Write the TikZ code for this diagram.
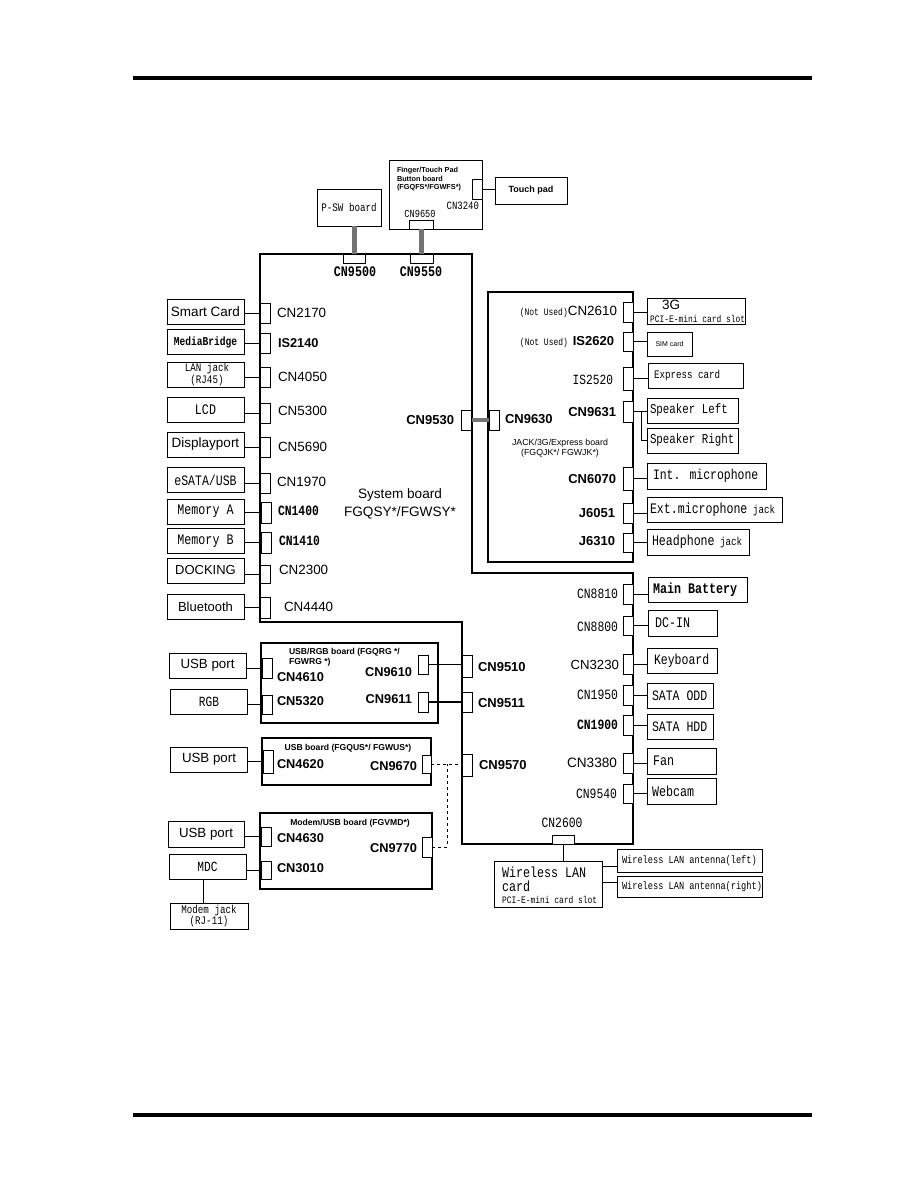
\documentclass[tikz,border=0pt]{standalone}
\usepackage{fontspec}
\setmainfont{Liberation Sans}
\newfontfamily\monof[FakeStretch=0.8]{Liberation Mono}
\newcommand\SaR[1]{\normalfont\fontsize{#1}{#1}\selectfont}
\newcommand\SaB[1]{\normalfont\bfseries\fontsize{#1}{#1}\selectfont}
\newcommand\MoR[1]{\monof\fontsize{#1}{#1}\selectfont}
\newcommand\MoB[1]{\monof\bfseries\fontsize{#1}{#1}\selectfont}
\begin{document}
\begin{tikzpicture}[x=1pt,y=-1pt,
  box/.style={draw, line width=0.9pt, inner sep=0pt, outer sep=0pt},
  lbox/.style={box, minimum width=77pt, minimum height=25pt},
  conn/.style={draw, line width=0.8pt, fill=white, inner sep=0pt, outer sep=0pt, minimum width=10pt},
  board/.style={draw, line width=1.1pt, inner sep=0pt, outer sep=0pt},
  tboard/.style={draw, line width=1.8pt, inner sep=0pt, outer sep=0pt},
  wire/.style={line width=0.9pt},
  cable/.style={line width=5pt, draw=black!55},
  dsh/.style={line width=0.9pt, dash pattern=on 3pt off 3pt},
  lbl/.style={inner sep=0pt, outer sep=0pt}]
\useasboundingbox (0,0) rectangle (918,1188);
% page rules
\fill (133,76) rectangle (812,80);
\fill (133,1113) rectangle (812,1117);

% ---------- top boards ----------
\node[box, minimum width=64pt, minimum height=37pt] (psw) at (349,207.5) {\MoR{11.5}P-SW board};
\node[box, minimum width=93pt, minimum height=69pt] (finger) at (435.5,194.5) {};
\node[lbl, anchor=north west, align=left, font=\fontsize{7.3}{8.6}\selectfont\bfseries] (fingert) at (397,167.5) {Finger/Touch Pad\\Button board\\(FGQFS*/FGWFS*)};
\node[conn, minimum width=24pt, minimum height=9pt] (c9650) at (421,224.5) {};
\node[conn, minimum height=20pt] (c3240) at (477,189) {};
\node[box, minimum width=72pt, minimum height=27pt] (tpad) at (531,190.5) {\SaB{9}Touch pad};
\draw[wire] (c3240.east) -- (c3240.east -| tpad.west);
\node[lbl, anchor=east] (l3240) at (479,206) {\MoR{11.2}CN3240};
\node[lbl] (l9650) at (420,213.5) {\MoR{10.8}CN9650};

% ---------- system board ----------
\draw[board] (260,254) -- (472,254) -- (472,573) -- (633,573) -- (633,844) -- (462,844) -- (462,622) -- (260,622) -- cycle;
\node[lbl] (sys1) at (400,495) {\SaR{13.6}System board};
\node[lbl] (sys2) at (400,513) {\SaR{13.6}FGQSY*/FGWSY*};

\node[conn, minimum width=22pt, minimum height=9pt] (c9500) at (354,258.5) {};
\node[conn, minimum width=23pt, minimum height=9pt] (c9550) at (421.5,258.5) {};
\draw[cable] (c9500.north |- psw.south) -- (c9500.north);
\draw[cable] (c9650.south) -- (c9650.south |- c9550.north);
\node[lbl] (l9500) at (355,272) {\MoB{14.6}CN9500};
\node[lbl] (l9550) at (421,272) {\MoB{14.6}CN9550};

% ---------- left column ----------
\node[lbox] (smart) at (205.5,312) {\SaR{13.5}Smart Card};
\node[conn, minimum height=20pt] (c2170) at (265,313) {};
\draw[wire] (c2170.west) -- (c2170.west -| smart.east);
\node[lbl, anchor=west] at (277,313) {\SaR{13.4}CN2170};

\node[lbox] (media) at (205.5,342) {\MoB{12}MediaBridge};
\node[conn, minimum height=20pt] (i2140) at (265,343) {};
\draw[wire] (i2140.west) -- (i2140.west -| media.east);
\node[lbl, anchor=west] at (278,343) {\SaB{12.8}IS2140};

\node[lbox] (lan) at (205.5,374.5) {};
\node[lbl, align=center, font=\monof\fontsize{11.5}{10}\selectfont] at (207,374.5) {LAN jack\\(RJ45)};
\node[conn, minimum height=20pt] (c4050) at (265,377) {};
\draw[wire] (c4050.west) -- (c4050.west -| lan.east);
\node[lbl, anchor=west] at (278,377) {\SaR{13.4}CN4050};

\node[lbox] (lcd) at (205.5,410) {\MoR{14.6}LCD};
\node[conn, minimum height=20pt] (c5300) at (265,413) {};
\draw[wire] (c5300.west) -- (c5300.west -| lcd.east);
\node[lbl, anchor=west] at (278,411) {\SaR{13.4}CN5300};

\node[lbox] (dport) at (205.5,444.5) {\SaR{13.5}Displayport};
\node[conn, minimum height=20pt] (c5690) at (265,447) {};
\draw[wire] (c5690.west) -- (c5690.west -| dport.east);
\node[lbl, anchor=west] at (278,447) {\SaR{13.4}CN5690};

\node[lbox] (esata) at (205.5,480) {\MoR{14.4}eSATA/USB};
\node[conn, minimum height=20pt] (c1970) at (265,483) {};
\draw[wire] (c1970.west) -- (c1970.west -| esata.east);
\node[lbl, anchor=west] at (277,482) {\SaR{13.4}CN1970};

\node[lbox] (mema) at (205.5,511.5) {\MoR{14.6}Memory A};
\node[conn, minimum height=21pt] (c1400) at (266,512.5) {};
\draw[wire] (c1400.west) -- (c1400.west -| mema.east);
\node[lbl, anchor=west] at (278,511) {\MoB{14.2}CN1400};

\node[lbox] (memb) at (205.5,541) {\MoR{14.6}Memory B};
\node[conn, minimum height=21pt] (c1410) at (266,542.5) {};
\draw[wire] (c1410.west) -- (c1410.west -| memb.east);
\node[lbl, anchor=west] at (279,541) {\MoB{14.2}CN1410};

\node[lbox] (dock) at (205.5,570.5) {\SaR{13}DOCKING};
\node[conn, minimum height=18pt] (c2300) at (265,574) {};
\draw[wire] (c2300.west) -- (c2300.west -| dock.east);
\node[lbl, anchor=west] at (279,570) {\SaR{13.4}CN2300};

\node[lbox] (bt) at (205.5,606.5) {\SaR{13}Bluetooth};
\node[conn, minimum height=21pt] (c4440) at (265,607.5) {};
\draw[wire] (c4440.west) -- (c4440.west -| bt.east);
\node[lbl, anchor=west] at (284,607) {\SaR{13.4}CN4440};

% ---------- JACK board ----------
\node[board, minimum width=145pt, minimum height=270pt] (jack) at (560.5,427) {};
\node[lbl, align=center, font=\fontsize{8.8}{10.5}\selectfont] at (560,448) {JACK/3G/Express board\\(FGQJK*/ FGWJK*)};
\node[conn, minimum height=20pt] (c9530) at (466.5,420) {};
\node[conn, minimum height=20pt] (c9630) at (494,420) {};
\draw[line width=4pt, draw=black!55] (c9530.east) -- (c9630.west);
\node[lbl, anchor=east] at (454,420) {\SaB{13}CN9530};
\node[lbl, anchor=west] at (505,419) {\SaB{13}CN9630};

\node[conn, minimum height=20pt] (c2610) at (628,312) {};
\node[box, minimum width=98pt, minimum height=26pt] (g3) at (696,311) {};
\node[lbl] at (671,305) {\SaR{13.5}3G};
\node[lbl, anchor=west] at (650,318.5) {\MoR{9.9}PCI-E-mini card slot};
\draw[wire] (c2610.east) -- (c2610.east -| g3.west);
\node[lbl, anchor=east] at (617,312) {{\MoR{10}(Not Used)}{\SaR{13.4}CN2610}};

\node[conn, minimum height=19pt] (i2620) at (628,341.5) {};
\node[box, minimum width=45pt, minimum height=24pt] (sim) at (669.5,344) {\SaR{7}SIM card};
\draw[wire] (i2620.east) -- (i2620.east -| sim.west);
\node[lbl, anchor=east] at (614,342) {{\MoR{10}(Not Used) }{\SaB{13}IS2620}};

\node[conn, minimum height=23pt] (i2520) at (628,378.5) {};
\node[box, minimum width=95pt, minimum height=25pt] (expr) at (695.5,375.5) {};
\node[lbl, anchor=west] at ([xshift=6pt]expr.west) {\MoR{11.5}Express card};
\draw[wire] (i2520.east) -- (i2520.east -| expr.west);
\node[lbl, anchor=east] at (613,380) {\MoR{14}IS2520};

\node[conn, minimum height=21pt] (c9631) at (628,411.5) {};
\node[box, minimum width=91pt, minimum height=25pt] (spkl) at (692.5,410.5) {};
\node[lbl, anchor=west] at ([xshift=3pt]spkl.west) {\MoR{13.5}Speaker Left};
\node[box, minimum width=91pt, minimum height=25pt] (spkr) at (692.5,440.5) {};
\node[lbl, anchor=west] at ([xshift=3pt]spkr.west) {\MoR{13.5}Speaker Right};
\draw[wire] (c9631.east) -- (c9631.east -| spkl.west);
\coordinate (sbr) at (641,411.5);
\draw[wire] (sbr) |- (spkr.west);
\node[lbl, anchor=east] at (616,412) {\SaB{13}CN9631};

\node[conn, minimum height=23pt] (c6070) at (628,478.5) {};
\node[box, minimum width=119pt, minimum height=26pt] (imic) at (706.5,476) {};
\node[lbl, anchor=west] at ([xshift=6pt]imic.west) {\MoR{14.3}Int. microphone};
\draw[wire] (c6070.east) -- (c6070.east -| imic.west);
\node[lbl, anchor=east] at (616,479) {\SaB{13}CN6070};

\node[conn, minimum height=20pt] (j6051) at (628,513) {};
\node[box, minimum width=135pt, minimum height=25pt] (emic) at (714.5,509.5) {};
\node[lbl, anchor=west] at ([xshift=3pt]emic.west) {{\MoR{14.5}Ext.microphone}{\MoR{11.5} jack}};
\draw[wire] (j6051.east) -- (j6051.east -| emic.west);
\node[lbl, anchor=east] at (615,513) {\SaB{13}J6051};

\node[conn, minimum height=19pt] (j6310) at (628,542.5) {};
\node[box, minimum width=102pt, minimum height=26pt] (hph) at (698,542) {};
\node[lbl, anchor=west] at ([xshift=5pt]hph.west) {{\MoR{14.5}Headphone}{\MoR{11.5} jack}};
\draw[wire] (j6310.east) -- (j6310.east -| hph.west);
\node[lbl, anchor=east] at (615,541) {\SaB{13}J6310};

% ---------- lower right ----------
\node[conn, minimum height=20pt] (c8810) at (628,594) {};
\node[box, minimum width=99pt, minimum height=25pt] (bat) at (697.5,589.5) {};
\node[lbl, anchor=west] at ([xshift=5pt]bat.west) {\MoB{14.6}Main Battery};
\draw[wire] (c8810.east) -- (c8810.east -| bat.west);
\node[lbl, anchor=east] at (618,594) {\MoR{14.2}CN8810};

\node[conn, minimum height=19pt] (c8800) at (628,625.5) {};
\node[box, minimum width=69pt, minimum height=26pt] (dcin) at (682.5,623) {};
\node[lbl, anchor=west] at ([xshift=7pt]dcin.west) {\MoR{14.6}DC-IN};
\draw[wire] (c8800.east) -- (c8800.east -| dcin.west);
\node[lbl, anchor=east] at (618,627) {\MoR{14.2}CN8800};

\node[conn, minimum height=20pt] (c3230) at (628,664) {};
\node[box, minimum width=70pt, minimum height=25pt] (kbd) at (682,660.5) {};
\node[lbl, anchor=west] at ([xshift=7pt]kbd.west) {\MoR{14.4}Keyboard};
\draw[wire] (c3230.east) -- (c3230.east -| kbd.west);
\node[lbl, anchor=east] at (619,665) {\SaR{13.2}CN3230};

\node[conn, minimum height=20pt] (c1950) at (628,695) {};
\node[box, minimum width=66pt, minimum height=25pt] (odd) at (680,695.5) {};
\node[lbl, anchor=west] at ([xshift=5pt]odd.west) {\MoR{14.4}SATA ODD};
\draw[wire] (c1950.east) -- (c1950.east -| odd.west);
\node[lbl, anchor=east] at (618,695) {\MoR{14.2}CN1950};

\node[conn, minimum height=20pt] (c1900) at (628,725) {};
\node[box, minimum width=66pt, minimum height=25pt] (hdd) at (680,726.5) {};
\node[lbl, anchor=west] at ([xshift=5pt]hdd.west) {\MoR{14.4}SATA HDD};
\draw[wire] (c1900.east) -- (c1900.east -| hdd.west);
\node[lbl, anchor=east] at (618,725) {\MoB{14.2}CN1900};

\node[conn, minimum height=20pt] (c3380) at (628,763) {};
\node[box, minimum width=69pt, minimum height=26pt] (fan) at (681.5,761) {};
\node[lbl, anchor=west] at ([xshift=6pt]fan.west) {\MoR{14.6}Fan};
\draw[wire] (c3380.east) -- (c3380.east -| fan.west);
\node[lbl, anchor=east] at (617,763) {\SaR{13.6}CN3380};

\node[conn, minimum height=19pt] (c9540) at (628,793.5) {};
\node[box, minimum width=69pt, minimum height=26pt] (webcam) at (681.5,791) {};
\node[lbl, anchor=west] at ([xshift=5pt]webcam.west) {\MoR{14.6}Webcam};
\draw[wire] (c9540.east) -- (c9540.east -| webcam.west);
\node[lbl, anchor=east] at (617,794) {\MoR{14.2}CN9540};

\node[conn, minimum width=22pt, minimum height=9pt] (c2600) at (563,839.5) {};
\node[lbl] at (562,823) {\MoR{14.2}CN2600};
\node[box, minimum width=108pt, minimum height=46pt] (wlan) at (548,884) {};
\node[lbl, anchor=west] at (502,872) {\MoR{14.6}Wireless LAN};
\node[lbl, anchor=west] at (502,886) {\MoR{14.6}card};
\node[lbl, anchor=west] at (502,900) {\MoR{9.9}PCI-E-mini card slot};
\draw[wire] (c2600.south) -- (c2600.south |- wlan.north);
\node[box, minimum width=145pt, minimum height=23pt] (antl) at (689.5,860.5) {};
\node[lbl, anchor=west] at ([xshift=5pt]antl.west) {\MoR{10.8}Wireless LAN antenna(left)};
\node[box, minimum width=145pt, minimum height=21pt] (antr) at (689.5,886.5) {};
\node[lbl, anchor=west] at ([xshift=5pt]antr.west) {\MoR{10.8}Wireless LAN antenna(right)};
\coordinate (a1) at (617,866);
\coordinate (a2) at (617,882);
\draw[wire] (wlan.east |- a1) -- (a1);
\draw[wire] (wlan.east |- a2) -- (a2);

% ---------- middle connectors on system board ----------
\node[conn, minimum height=22pt] (c9510) at (467,666) {};
\node[lbl, anchor=west] at (478,667) {\SaB{13}CN9510};
\node[conn, minimum height=20pt] (c9511) at (467,702) {};
\node[lbl, anchor=west] at (478,703) {\SaB{13}CN9511};
\node[conn, minimum height=22pt] (c9570) at (467,765) {};
\node[lbl, anchor=west] at (479,765) {\SaB{13}CN9570};

% ---------- USB/RGB board ----------
\node[board, minimum width=177pt, minimum height=80pt] (rgbb) at (349.5,683) {};
\node[lbl, anchor=west, align=left, font=\fontsize{8.6}{10}\selectfont\bfseries] at (289,657) {USB/RGB board (FGQRG */\\FGWRG *)};
\node[lbox] (usb1) at (207.5,665.5) {\SaR{13.3}USB port};
\node[conn, minimum height=20pt] (c4610) at (267,668) {};
\draw[wire] (c4610.west) -- (c4610.west -| usb1.east);
\node[lbl, anchor=west] at (277,677) {\SaB{12.8}CN4610};
\node[lbox] (rgb) at (209,701.5) {\MoR{14}RGB};
\node[conn, minimum height=19pt] (c5320) at (267,704.5) {};
\draw[wire] (c5320.west) -- (c5320.west -| rgb.east);
\node[lbl, anchor=west] at (277,701) {\SaB{12.8}CN5320};
\node[conn, minimum height=19pt] (c9610) at (423,664.5) {};
\node[lbl, anchor=east] at (412,672) {\SaB{12.8}CN9610};
\node[conn, minimum height=20pt] (c9611) at (423,702) {};
\node[lbl, anchor=east] at (412,699) {\SaB{12.8}CN9611};
\draw[line width=1.3pt] (c9610.east) -- (c9610.east -| c9510.west);
\draw[line width=1.3pt] (c9611.east) -- (c9611.east -| c9511.west);

% ---------- USB board ----------
\node[tboard, minimum width=169pt, minimum height=47pt] (usbb) at (346.5,761.5) {};
\node[lbl] at (348,748) {\SaB{8.6}USB board (FGQUS*/ FGWUS*)};
\node[lbox] (usb2) at (209,759.5) {\SaR{13.3}USB port};
\node[conn, minimum height=23pt] (c4620) at (268,761.5) {};
\draw[wire] (c4620.west) -- (c4620.west -| usb2.east);
\node[lbl, anchor=west] at (277,764) {\SaB{12.8}CN4620};
\node[conn, minimum width=9pt, minimum height=18pt] (c9670) at (426.5,764) {};
\node[lbl, anchor=east] at (417,766) {\SaB{12.8}CN9670};

% ---------- Modem/USB board ----------
\node[tboard, minimum width=172pt, minimum height=76pt] (modb) at (346,851) {};
\node[lbl] at (350,823) {\SaB{8.6}Modem/USB board (FGVMD*)};
\node[lbox, minimum width=76pt, minimum height=26pt] (usb3) at (206,834) {\SaR{13.3}USB port};
\node[conn, minimum height=19pt] (c4630) at (266,836.5) {};
\draw[wire] (c4630.west) -- (c4630.west -| usb3.east);
\node[lbl, anchor=west] at (277,838) {\SaB{12.8}CN4630};
\node[lbox] (mdc) at (207.5,866.5) {\MoR{14}MDC};
\node[conn, minimum height=18pt] (c3010) at (266,870) {};
\draw[wire] (c3010.west) -- (c3010.west -| mdc.east);
\node[lbl, anchor=west] at (277,868) {\SaB{12.8}CN3010};
\node[box, minimum width=78pt, minimum height=26pt] (mjack) at (209,916) {};
\node[lbl, align=center, font=\monof\fontsize{11.5}{10}\selectfont] at (209,916) {Modem jack\\(RJ-11)};
\draw[wire] (mjack.north -| 203,0) -- (mdc.south -| 203,0);
\node[conn, minimum height=20pt] (c9770) at (427,847) {};
\node[lbl, anchor=east] at (417,848) {\SaB{12.8}CN9770};

% dashed links
\coordinate (dk) at (447,764);
\draw[dsh] (c9670.east) -- (c9670.east -| c9570.west);
\draw[dsh] (c9770.east) -| (dk);
\end{tikzpicture}
\end{document}
